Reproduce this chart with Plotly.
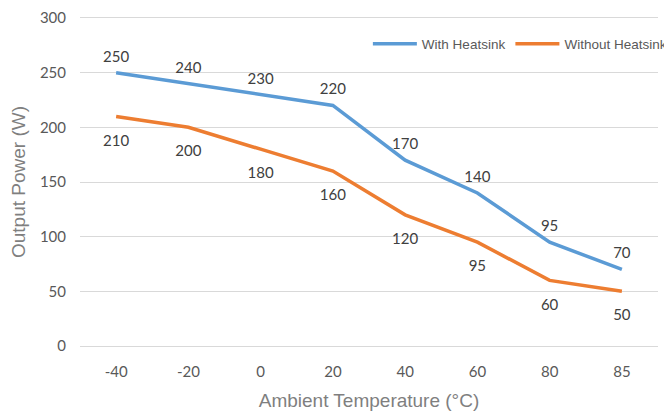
import plotly.graph_objects as go

temps = ["-40", "-20", "0", "20", "40", "60", "80", "85"]
with_heatsink = [250, 240, 230, 220, 170, 140, 95, 70]
without_heatsink = [210, 200, 180, 160, 120, 95, 60, 50]

label_font = dict(family="Lato, Open Sans, sans-serif", size=15, color="#404040")

fig = go.Figure()
fig.add_trace(go.Scatter(
    x=temps, y=with_heatsink, name="With Heatsink", mode="lines+markers+text",
    line=dict(color="#5B9BD5", width=3.5), marker=dict(size=10, color="rgba(0,0,0,0)"),
    text=[str(v) for v in with_heatsink], textposition="top center",
    textfont=label_font, cliponaxis=False,
))
fig.add_trace(go.Scatter(
    x=temps, y=without_heatsink, name="Without Heatsink", mode="lines+markers+text",
    line=dict(color="#ED7D31", width=3.5), marker=dict(size=27, color="rgba(0,0,0,0)"),
    text=[str(v) for v in without_heatsink], textposition="bottom center",
    textfont=label_font, cliponaxis=False,
))

fig.update_layout(
    width=664, height=406,
    margin=dict(l=72, r=14, t=10, b=68, autoexpand=False),
    paper_bgcolor="white", plot_bgcolor="white",
    font=dict(family="Liberation Sans, Arial, sans-serif", color="#595959"),
    showlegend=True,
    legend=dict(
        orientation="h", x=1.024, xanchor="right", y=0.921, yanchor="middle",
        font=dict(family="Liberation Sans, Arial, sans-serif", size=13.5, color="#595959"),
        bgcolor="rgba(0,0,0,0)", itemwidth=44,
    ),
    xaxis=dict(
        type="category", range=[-0.5, 7.5], showgrid=False, zeroline=False,
        showline=True, mirror=True, linecolor="#d9d9d9", linewidth=1.3,
        tickfont=dict(family="Lato, Open Sans, sans-serif", size=15, color="#595959"),
        ticklabelstandoff=12,
        title=dict(text="Ambient Temperature (°C)", font=dict(size=19, color="#7f7f7f"), standoff=14),
    ),
    yaxis=dict(
        range=[0, 300], tickvals=[0, 50, 100, 150, 200, 250, 300],
        showgrid=True, gridcolor="#d9d9d9", gridwidth=1.3,
        zeroline=False, showline=False,
        tickfont=dict(family="Lato, Open Sans, sans-serif", size=15, color="#595959"),
        ticklabelstandoff=13,
        title=dict(text="Output Power (W)", font=dict(size=19, color="#7f7f7f"), standoff=15),
    ),
)

fig.write_html("out.html")
